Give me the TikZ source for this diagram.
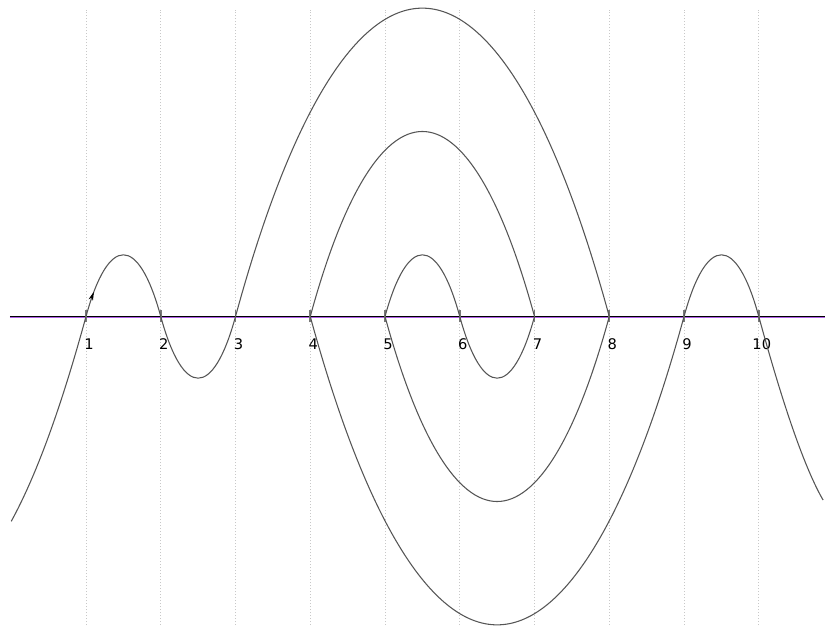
\documentclass[tikz,border=0pt]{standalone}
\usepackage{fontspec}
\setmainfont{DejaVu Sans}
\usepackage{tikz}
\usetikzlibrary{arrows.meta}
\usetikzlibrary{decorations.markings}

\definecolor{curvegray}{HTML}{555555}
\definecolor{gridgray}{HTML}{C8C8C8}
\definecolor{axispurple}{HTML}{B060E8}

\tikzset{
  meander/.style={draw=curvegray, line width=0.8pt},
  grid line/.style={draw=gridgray, line width=0.6pt, dash pattern=on 0.75pt off 1.5pt},
  tickmark/.style={draw=curvegray!80, line width=1.4pt},
  lbl/.style={font=\fontsize{11}{13}\selectfont, inner sep=0pt}
}

\begin{document}
\begin{tikzpicture}[x=56.06pt, y=56.06pt]

\useasboundingbox (-0.1505,-4.181) rectangle (10.886,4.234);

\foreach \i in {1,...,10} {
  \coordinate (n\i) at (\i,0);
  \draw[grid line] (\i,-4.13) -- (\i,4.1);
}

\coordinate (start) at (0,-2.74);
\coordinate (finish) at (10.86,-2.455);
\coordinate (axl) at (-0.02,0);
\coordinate (axr) at (10.886,0);

\draw[axispurple, line width=0.6pt] ([yshift=-1pt]axl) -- ([yshift=-1pt]axr);
\draw[black, line width=0.7pt] ([yshift=0.1pt]axl) -- ([yshift=0.1pt]axr);

\foreach \i in {1,...,10} {
  \draw[tickmark] ([yshift=-4.5pt]n\i) -- ([yshift=4.5pt]n\i);
  \node[lbl] (l\i) at ([shift={(0.04,-0.37)}]n\i) {\i};
}

% the meander
\draw[meander] (start) .. controls (0.333,-2.133) and +(-0.333,-1.22) .. (n1)
  .. controls +(0.3,1.1) and +(-0.3,1.1) .. (n2)
  .. controls +(0.3,-1.1) and +(-0.3,-1.1) .. (n3)
  .. controls +(1.5,5.5) and +(-1.5,5.5) .. (n8)
  .. controls +(-0.9,-3.3) and +(0.9,-3.3) .. (n5)
  .. controls +(0.3,1.1) and +(-0.3,1.1) .. (n6)
  .. controls +(0.3,-1.1) and +(-0.3,-1.1) .. (n7)
  .. controls +(-0.9,3.3) and +(0.9,3.3) .. (n4)
  .. controls +(1.5,-5.5) and +(-1.5,-5.5) .. (n9)
  .. controls +(0.3,1.1) and +(-0.3,1.1) .. (n10)
  .. controls +(0.333,-1.22) and (10.62,-2.04) .. (finish);

\path[decoration={markings, mark=at position 0.17 with {\arrow[black]{Stealth[length=6.5pt, width=3.5pt]}}}, decorate]
  (n1) .. controls +(0.3,1.1) and +(-0.3,1.1) .. (n2);

\end{tikzpicture}
\end{document}
